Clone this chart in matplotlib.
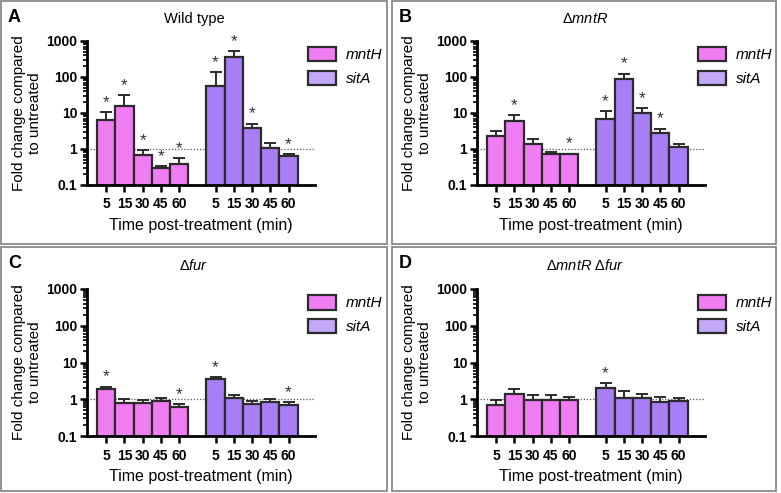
import numpy as np
import matplotlib.pyplot as plt
from matplotlib.patches import Patch, Rectangle

plt.rcParams["font.family"] = ["Liberation Sans", "DejaVu Sans"]
plt.rcParams["mathtext.fontset"] = "custom"
plt.rcParams["mathtext.rm"] = "Liberation Sans"
plt.rcParams["mathtext.it"] = "Liberation Sans:italic"

# --- data ---
times = ["5", "15", "30", "45", "60"]
genes = ["mntH", "sitA"]
panel_letters = ["A", "B", "C", "D"]
panel_titles = ["Wild type", r"$\Delta\mathit{mntR}$", r"$\Delta\mathit{fur}$",
                r"$\Delta\mathit{mntR}\ \Delta\mathit{fur}$"]

wt_mnth = [6.2, 15.5, 0.68, 0.30, 0.39]
wt_mnth_err = [10.8, 31, 0.94, 0.34, 0.55]
wt_sita = [58, 360, 3.8, 1.04, 0.64]
wt_sita_err = [135, 520, 5.1, 1.44, 0.73]
wt_mnth_sig = [1, 1, 1, 1, 1]
wt_sita_sig = [1, 1, 1, 0, 1]

mntr_mnth = [2.35, 6.1, 1.38, 0.73, 0.71]
mntr_mnth_err = [3.15, 8.6, 1.85, 0.84, 0.74]
mntr_sita = [7.0, 86, 10.2, 2.7, 1.14]
mntr_sita_err = [11.2, 124, 14, 3.7, 1.38]
mntr_mnth_sig = [0, 1, 0, 0, 1]
mntr_sita_sig = [1, 1, 1, 1, 0]

fur_mnth = [1.9, 0.80, 0.77, 0.89, 0.61]
fur_mnth_err = [2.2, 1.0, 0.93, 1.05, 0.75]
fur_sita = [3.55, 1.05, 0.75, 0.85, 0.70]
fur_sita_err = [4.1, 1.3, 0.89, 1.0, 0.84]
fur_mnth_sig = [1, 0, 0, 0, 1]
fur_sita_sig = [1, 0, 0, 0, 1]

dbl_mnth = [0.68, 1.38, 0.95, 0.95, 0.95]
dbl_mnth_err = [0.95, 1.9, 1.3, 1.3, 1.17]
dbl_sita = [1.98, 1.05, 1.05, 0.85, 0.89]
dbl_sita_err = [2.7, 1.65, 1.36, 1.17, 1.1]
dbl_mnth_sig = [0, 0, 0, 0, 0]
dbl_sita_sig = [1, 0, 0, 0, 0]

panels = [
    (wt_mnth, wt_mnth_err, wt_mnth_sig, wt_sita, wt_sita_err, wt_sita_sig),
    (mntr_mnth, mntr_mnth_err, mntr_mnth_sig, mntr_sita, mntr_sita_err, mntr_sita_sig),
    (fur_mnth, fur_mnth_err, fur_mnth_sig, fur_sita, fur_sita_err, fur_sita_sig),
    (dbl_mnth, dbl_mnth_err, dbl_mnth_sig, dbl_sita, dbl_sita_err, dbl_sita_sig),
]

pink = "#f07ef2"
purple = "#a87ef6"
purple_legend = "#c6a8f8"
edge = "#2b2b2b"

W, H = 781, 493
fig = plt.figure(figsize=(W / 100, H / 100), dpi=100)

# panel frames (pixels)
frames = [(1, 1, 387, 244), (392, 1, 776, 244), (1, 247, 387, 491), (392, 247, 776, 491)]
for x0, y0, x1, y1 in frames:
    fig.patches.append(Rectangle((x0 / W, 1 - y1 / H), (x1 - x0) / W, (y1 - y0) / H,
                                 transform=fig.transFigure, fill=False,
                                 edgecolor="#8a8a8a", lw=1.3))

# axes boxes (pixels): left, top, right, bottom
axes_px = [(87, 41, 315, 185), (477, 41, 705, 185), (87, 289, 315, 436), (477, 289, 705, 436)]

pos1 = np.arange(5)
pos2 = np.arange(5) + 6

for i, (x0, y0, x1, y1) in enumerate(axes_px):
    ax = fig.add_axes([x0 / W, 1 - y1 / H, (x1 - x0) / W, (y1 - y0) / H])
    m, m_err, m_sig, s, s_err, s_sig = panels[i]

    for pos, vals, errs, sig, col in [(pos1, m, m_err, m_sig, pink),
                                      (pos2, s, s_err, s_sig, purple)]:
        vals = np.array(vals)
        errs = np.array(errs)
        ax.errorbar(pos, vals, yerr=[np.zeros(5), errs - vals], fmt="none",
                    ecolor=edge, elinewidth=1.4, capsize=4.5, capthick=1.4, zorder=1)
        ax.bar(pos, vals, width=1.0, color=col, edgecolor=edge, linewidth=1.6, zorder=2)
        for p, e, sg in zip(pos, errs, sig):
            if sg:
                ax.annotate("*", (p, e), xytext=(0, 1.5), textcoords="offset points",
                            ha="center", va="bottom", fontsize=12.5, color="#333333")

    ax.axhline(1, color="#555555", lw=0.9, ls=(0, (1, 1.5)), zorder=0)
    ax.set_yscale("log")
    ax.set_ylim(0.1, 1000)
    ax.set_xlim(-1.05, 11.45)
    ax.set_yticks([0.1, 1, 10, 100, 1000])
    ax.set_yticklabels(["0.1", "1", "10", "100", "1000"])
    ax.set_xticks(np.concatenate([pos1, pos2]))
    ax.set_xticklabels(times + times)
    ax.spines["top"].set_visible(False)
    ax.spines["right"].set_visible(False)
    ax.spines["left"].set_linewidth(2)
    ax.spines["bottom"].set_linewidth(2)
    ax.tick_params(axis="both", which="major", length=5, width=1.8, labelsize=10,
                   pad=2)
    ax.tick_params(axis="y", which="minor", length=3, width=1.2)
    ax.tick_params(axis="x", pad=4)
    for lab in ax.get_xticklabels() + ax.get_yticklabels():
        lab.set_fontweight("bold")

    ax.set_ylabel("Fold change compared\nto untreated", fontsize=11,
                  labelpad=3, linespacing=1.2)
    ax.set_xlabel("Time post-treatment (min)", fontsize=11.5, labelpad=5)

    fx = frames[i][0]
    fy = frames[i][1]
    fig.text((fx + 7) / W, 1 - (fy + 16) / H, panel_letters[i], fontsize=13,
             fontweight="bold", va="center", ha="left")
    fig.text((fx + 193) / W, 1 - (fy + 18) / H, panel_titles[i], fontsize=10.5,
             va="center", ha="center")

    handles = [Patch(facecolor=pink, edgecolor=edge, lw=1.6),
               Patch(facecolor=purple_legend, edgecolor=edge, lw=1.6)]
    ax.legend(handles, genes, loc="upper left", bbox_to_anchor=((308 - 87) / 228, 0.96),
              frameon=False, borderpad=0, borderaxespad=0, handlelength=1.8,
              handleheight=1.1, handletextpad=0.7, labelspacing=0.55,
              prop={"style": "italic", "size": 11})

fig.savefig("out.png", dpi=100)
